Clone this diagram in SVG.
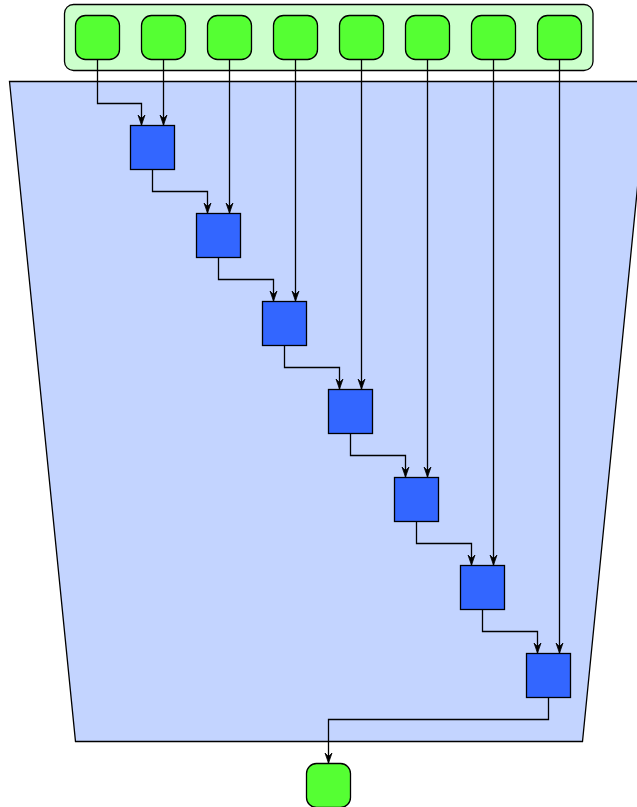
<svg xmlns="http://www.w3.org/2000/svg" width="637" height="807" viewBox="0 0 637 807">
<style>
.g{fill:#55ff33;stroke:#000;stroke-width:1.3}
.b{fill:#3366ff;stroke:#000;stroke-width:1.3}
.e{fill:none;stroke:#000;stroke-width:1.3}
</style>
<defs>
<marker id="a" markerUnits="userSpaceOnUse" markerWidth="14" markerHeight="12" viewBox="-12 -6 14 12" refX="0" refY="0" orient="auto">
<path d="M0,0 L-10,-3.5 L-6.5,0 L-10,3.5 Z" fill="#000" stroke="#000" stroke-width="0.8" stroke-linejoin="miter"/>
</marker>
</defs>
<rect width="637" height="807" fill="#fff"/>
<g id="container"><rect x="64.5" y="4.5" width="528.5" height="66" rx="9" fill="#ccffcc" stroke="#000" stroke-width="1.3"/></g>
<g id="trapezoid"><path d="M9.5,81.5 L648,81.5 L582.5,741.5 L75.5,741.5 Z" fill="#c3d4ff" stroke="#000" stroke-width="1.3"/></g>
<g id="inputs">
<rect id="in1" class="g" x="75.5" y="15.5" width="44" height="44" rx="10"/>
<rect id="in2" class="g" x="141.5" y="15.5" width="44" height="44" rx="10"/>
<rect id="in3" class="g" x="207.5" y="15.5" width="44" height="44" rx="10"/>
<rect id="in4" class="g" x="273.5" y="15.5" width="44" height="44" rx="10"/>
<rect id="in5" class="g" x="339.5" y="15.5" width="44" height="44" rx="10"/>
<rect id="in6" class="g" x="405.5" y="15.5" width="44" height="44" rx="10"/>
<rect id="in7" class="g" x="471.5" y="15.5" width="44" height="44" rx="10"/>
<rect id="in8" class="g" x="537.5" y="15.5" width="44" height="44" rx="10"/>
</g>
<g id="squares">
<rect id="s1" class="b" x="130.5" y="125.5" width="44" height="44"/>
<rect id="s2" class="b" x="196.5" y="213.5" width="44" height="44"/>
<rect id="s3" class="b" x="262.5" y="301.5" width="44" height="44"/>
<rect id="s4" class="b" x="328.5" y="389.5" width="44" height="44"/>
<rect id="s5" class="b" x="394.5" y="477.5" width="44" height="44"/>
<rect id="s6" class="b" x="460.5" y="565.5" width="44" height="44" stroke-width="2"/>
<rect id="s7" class="b" x="526.5" y="653.5" width="44" height="44"/>
</g>
<g id="output"><rect id="out" class="g" x="306.5" y="763.5" width="44" height="44" rx="10"/></g>
<g id="connectors">
<path class="e" marker-end="url(#a)" d="M97.5,59.5 V103.5 H141.5 V125"/>
<path class="e" marker-end="url(#a)" d="M163.5,59.5 V125"/>
<path class="e" marker-end="url(#a)" d="M229.5,59.5 V213"/>
<path class="e" marker-end="url(#a)" d="M295.5,59.5 V301"/>
<path class="e" marker-end="url(#a)" d="M361.5,59.5 V389"/>
<path class="e" marker-end="url(#a)" d="M427.5,59.5 V477"/>
<path class="e" marker-end="url(#a)" d="M493.5,59.5 V565"/>
<path class="e" marker-end="url(#a)" d="M559.5,59.5 V653"/>
<path class="e" marker-end="url(#a)" d="M152.5,169.5 V191.5 H207.5 V213"/>
<path class="e" marker-end="url(#a)" d="M218.5,257.5 V279.5 H273.5 V301"/>
<path class="e" marker-end="url(#a)" d="M284.5,345.5 V367.5 H339.5 V389"/>
<path class="e" marker-end="url(#a)" d="M350.5,433.5 V455.5 H405.5 V477"/>
<path class="e" marker-end="url(#a)" d="M416.5,521.5 V543.5 H471.5 V565"/>
<path class="e" marker-end="url(#a)" d="M482.5,609.5 V631.5 H537.5 V653"/>
<path class="e" marker-end="url(#a)" d="M548.5,697.5 V719.5 H328.5 V763"/>
</g>
</svg>
